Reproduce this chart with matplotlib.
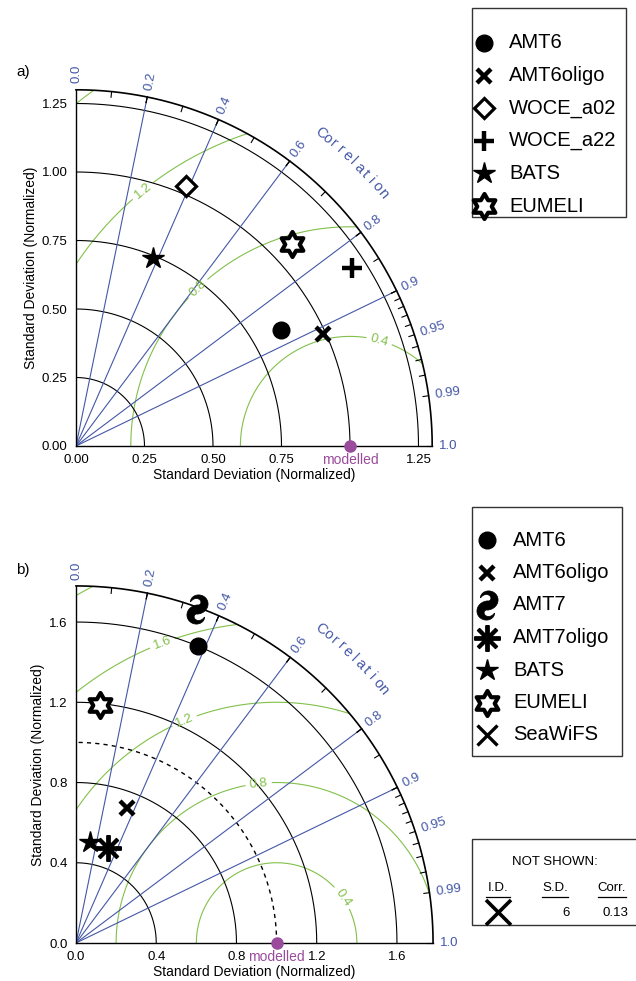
import numpy as np
import matplotlib
matplotlib.use('Agg')
import matplotlib.pyplot as plt
from matplotlib.path import Path
from matplotlib.patches import Wedge, Rectangle

plt.rcParams['font.family'] = ['Liberation Sans', 'DejaVu Sans']

W, H = 636, 981

# ---- data (std normalised, correlation) ----
a_names = ['AMT6', 'AMT6oligo', 'WOCE_a02', 'WOCE_a22', 'BATS', 'EUMELI']
a_std = [0.86, 0.99, 1.03, 1.20, 0.74, 1.08]
a_corr = [0.87, 0.91, 0.39, 0.84, 0.38, 0.73]

b_names = ['AMT6', 'AMT6oligo', 'AMT7', 'AMT7oligo', 'BATS', 'EUMELI', 'SeaWiFS']
b_std = [1.60, 0.72, 1.77, 0.50, 0.51, 1.19]
b_corr = [0.38, 0.35, 0.34, 0.32, 0.14, 0.10]

not_shown_id = 'SeaWiFS'
not_shown_sd = 6
not_shown_corr = 0.13

a_std_ticks = [0.0, 0.25, 0.5, 0.75, 1.0, 1.25]
a_xtick_labels = ['0.00', '0.25', '0.50', '0.75', '', '1.25']
a_ytick_labels = ['0.00', '0.25', '0.50', '0.75', '1.00', '1.25']
b_std_ticks = [0.0, 0.4, 0.8, 1.2, 1.6]
b_tick_labels = ['0.0', '0.4', '0.8', '1.2', '1.6']
corr_lines = [0.2, 0.4, 0.6, 0.8, 0.9]
corr_labels = ['0.0', '0.2', '0.4', '0.6', '0.8', '0.9', '0.95', '0.99', '1.0']
corr_minor = [0.1, 0.3, 0.5, 0.7, 0.85, 0.91, 0.92, 0.93, 0.94, 0.96, 0.97, 0.98]
a_rms_levels = [0.4, 0.8, 1.2, 1.6]
b_rms_levels = [0.4, 0.8, 1.2, 1.6, 2.0]
a_rms_label_pos = [(1.105, 0.378), (0.44, 0.58), (0.245, 0.93)]
b_rms_label_pos = [(1.32, 0.22), (0.91, 0.80), (0.54, 1.11), (0.43, 1.495)]

BLUE = '#4457a6'
GREEN = '#82c04a'
PURPLE = '#9a4b9c'


# ---- custom marker shapes ----
def hexagram():
    ang = np.deg2rad(90 + 30 * np.arange(12))
    rad = np.where(np.arange(12) % 2 == 0, 1.0, 1 / np.sqrt(3))
    v = np.column_stack([rad * np.cos(ang), rad * np.sin(ang)])
    return Path(np.vstack([v, v[:1]]), closed=True)


def swirl():
    # hurricane-like sign: two thick crescents around the centre
    rx, ry, a = 0.55, 0.5, 0.7
    phi = np.deg2rad(np.linspace(-90, 170, 80))
    t = (phi - phi[0]) / (phi[-1] - phi[0])
    wo = a * (1 - t)
    wi = a * (1 - t) ** 0.6
    outer = np.column_stack([rx * (1 + wo) * np.cos(phi), ry + ry * (1 + wo) * np.sin(phi)])
    inner = np.column_stack([rx * (1 - wi) * np.cos(phi), ry + ry * (1 - wi) * np.sin(phi)])[::-1]
    up = np.vstack([outer, inner])
    v = np.vstack([up, -up, up[:1]])
    return Path(v, closed=True)


STYLE = {
    'AMT6': dict(marker='o', ms=12, mfc='k', mec='k'),
    'AMT6oligo': dict(marker='x', ms=10, mec='k', mew=3.2),
    'WOCE_a02': dict(marker='D', ms=10, mfc='white', mec='k', mew=2.3),
    'WOCE_a22': dict(marker='+', ms=15, mec='k', mew=3.2),
    'BATS': dict(marker='*', ms=16, mfc='k', mec='k'),
    'EUMELI': dict(marker=hexagram(), ms=18, mfc='white', mec='k', mew=3.0),
    'AMT7': dict(marker=swirl(), ms=21, mfc='k', mec='k', mew=0.5),
    'AMT7oligo': dict(marker=(8, 2, 0), ms=19, mec='k', mew=2.8),
    'SeaWiFS': dict(marker='x', ms=14, mec='k', mew=2.4),
}

fig = plt.figure(figsize=(W / 100, H / 100), dpi=100)


def taylor(ox, oy, scale, rmax, std_ticks, xlabels, ylabels, names, std, corr,
           levels, label_pos, label_levels, dashed=False):
    size = rmax * scale
    ax = fig.add_axes([ox / W, 1 - oy / H, size / W, size / H])
    ax.set_xlim(0, rmax)
    ax.set_ylim(0, rmax)
    ax.set_aspect('equal')
    ax.patch.set_visible(False)
    for s in ['top', 'right']:
        ax.spines[s].set_visible(False)
    for s in ['left', 'bottom']:
        ax.spines[s].set_linewidth(1.0)
    ax.set_xticks(std_ticks)
    ax.set_yticks(std_ticks)
    ax.set_xticklabels(xlabels)
    ax.set_yticklabels(ylabels)
    ax.tick_params(length=0, labelsize=9.5, pad=6)
    ax.set_xlabel('Standard Deviation (Normalized)', fontsize=10, labelpad=1)
    ax.set_ylabel('Standard Deviation (Normalized)', fontsize=10, labelpad=3)

    th = np.linspace(0, np.pi / 2, 200)
    # std arcs
    for r in std_ticks[1:]:
        ax.plot(r * np.cos(th), r * np.sin(th), color='k', lw=0.8, zorder=2)
    ax.plot(rmax * np.cos(th), rmax * np.sin(th), color='k', lw=1.2, zorder=2, clip_on=False)
    if dashed:
        ax.plot(np.cos(th), np.sin(th), color='k', lw=1.0, ls=(0, (3, 3)), zorder=2)

    # correlation rays, ticks and labels
    for c in corr_lines:
        s = np.sqrt(1 - c ** 2)
        ax.plot([0, rmax * c], [0, rmax * s], color=BLUE, lw=0.8, zorder=2)
    for c in corr_lines + [float(l) for l in corr_labels[1:]] + corr_minor:
        s = np.sqrt(1 - c ** 2)
        ax.plot([rmax * c, 0.984 * rmax * c], [rmax * s, 0.984 * rmax * s],
                color='k', lw=0.8, zorder=2, clip_on=False)
    for lab in corr_labels:
        t = np.arccos(float(lab))
        r = 1.018 * rmax
        ax.text(r * np.cos(t), r * np.sin(t), lab, rotation=np.degrees(t),
                rotation_mode='anchor', ha='left', va='center', color=BLUE, fontsize=9.5)
    word = 'Correlation'
    angs = np.linspace(52, 39.5, len(word))
    for ch, a in zip(word, angs):
        t = np.deg2rad(a)
        r = 1.115 * rmax
        ax.text(r * np.cos(t), r * np.sin(t), ch, rotation=a - 90, ha='center', va='center',
                rotation_mode='anchor', color=BLUE, fontsize=10.5)

    # RMS contours about the reference
    g = np.linspace(0, rmax, 400)
    X, Y = np.meshgrid(g, g)
    R = np.sqrt((X - 1.0) ** 2 + Y ** 2)
    cs = ax.contour(X, Y, R, levels=levels, colors=GREEN, linewidths=0.8, zorder=1)
    cs.set_clip_path(Wedge((0, 0), rmax, 0, 90, transform=ax.transData))
    ax.clabel(cs, levels=label_levels, manual=label_pos, fmt='%.1f', fontsize=9.5,
              colors=GREEN, inline=True, inline_spacing=4)

    # reference point
    ax.plot(1.0, 0, 'o', color=PURPLE, ms=8, clip_on=False, zorder=6)
    ax.annotate('modelled', xy=(1.0, 0), xytext=(0, -10), textcoords='offset points',
                ha='center', va='center', color=PURPLE, fontsize=10)

    # data points
    for n, sd, c in zip(names, std, corr):
        x = sd * c
        y = sd * np.sqrt(1 - c ** 2)
        ax.plot(x, y, linestyle='none', zorder=5, **STYLE[n])
    return ax


taylor(76, 446, 274, 1.3, a_std_ticks, a_xtick_labels, a_ytick_labels, a_names, a_std, a_corr,
       a_rms_levels, a_rms_label_pos, [0.4, 0.8, 1.2])
taylor(76, 943, 200.6, 1.78, b_std_ticks, b_tick_labels, b_tick_labels, b_names, b_std, b_corr,
       b_rms_levels, b_rms_label_pos, [0.4, 0.8, 1.2, 1.6], dashed=True)

fig.text(23 / W, 1 - 72 / H, 'a)', fontsize=11, ha='center', va='center')
fig.text(23 / W, 1 - 570 / H, 'b)', fontsize=11, ha='center', va='center')

# ---- legends (overlay in pixel coordinates) ----
ov = fig.add_axes([0, 0, 1, 1], zorder=5)
ov.set_xlim(0, W)
ov.set_ylim(H, 0)
ov.axis('off')


def legend_box(x0, y0, x1, y1, names, ys, mx, tx):
    ov.add_patch(Rectangle((x0, y0), x1 - x0, y1 - y0, fill=False, ec='#333333', lw=1.0))
    for n, y in zip(names, ys):
        ov.plot(mx, y, linestyle='none', **STYLE[n])
        ov.text(tx, y, n, fontsize=14.5, va='center', ha='left')


legend_box(472, 8, 626, 217, a_names, np.linspace(43, 206, len(a_names)), 484, 509)
legend_box(472, 507, 622, 756, b_names, np.linspace(540, 735, len(b_names)), 487, 513)

# not-shown table
ov.add_patch(Rectangle((472, 839), 200, 86, fill=False, ec='#333333', lw=1.0, clip_on=True))
ov.text(555, 862, 'NOT SHOWN:', fontsize=9.5, ha='center', va='center')
for hx, head, half in [(498, 'I.D.', 12), (555, 'S.D.', 13), (612, 'Corr.', 14)]:
    ov.text(hx, 888, head, fontsize=9.5, ha='center', va='center')
    ov.plot([hx - half, hx + half], [897, 897], color='k', lw=0.9)
ov.plot(498, 912, linestyle='none', **dict(STYLE[not_shown_id], ms=18, mew=2.6))
ov.text(570, 913, '%d' % not_shown_sd, fontsize=9.5, ha='right', va='center')
ov.text(628, 913, '%.2f' % not_shown_corr, fontsize=9.5, ha='right', va='center')

fig.savefig('out.png', dpi=100)
